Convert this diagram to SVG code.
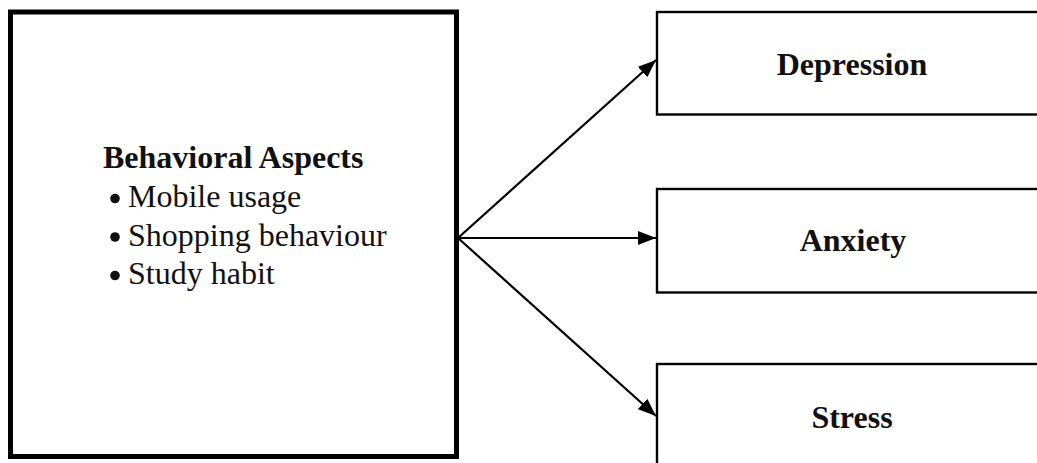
<svg xmlns="http://www.w3.org/2000/svg" width="1037" height="463" viewBox="0 0 1037 463">
  <style>
    .box { fill: #ffffff; stroke: #000000; }
    .main { stroke-width: 5; }
    .out { stroke-width: 2.4; }
    .title { font-family: "Liberation Serif", "Times New Roman", serif; font-weight: bold; font-size: 32px; fill: #111111; }
    .item { font-family: "Liberation Serif", "Times New Roman", serif; font-size: 32px; fill: #111111; }
    .bullet { fill: #111111; }
    .link { fill: none; stroke: #000000; stroke-width: 2.2; marker-end: url(#head); }
  </style>
  <defs>
    <marker id="head" markerUnits="userSpaceOnUse" markerWidth="18" markerHeight="14" refX="18" refY="7" orient="auto">
      <path d="M0,0 L18,7 L0,14 Z" fill="#000000"/>
    </marker>
  </defs>

  <rect width="1037" height="463" fill="#ffffff"/>

  <!-- source node -->
  <g id="behavioral-aspects">
    <rect class="box main" x="10.5" y="12" width="446" height="444.5"/>
    <text class="title" x="103" y="168">Behavioral Aspects</text>
    <circle class="bullet" cx="115" cy="198.5" r="4.8"/>
    <text class="item" x="128" y="207">Mobile usage</text>
    <circle class="bullet" cx="115" cy="237" r="4.8"/>
    <text class="item" x="128" y="245.5">Shopping behaviour</text>
    <circle class="bullet" cx="115" cy="275.5" r="4.8"/>
    <text class="item" x="128" y="284">Study habit</text>
  </g>

  <!-- outcome nodes -->
  <g id="depression">
    <rect class="box out" x="657" y="12" width="400" height="102.5"/>
    <text class="title" x="852" y="75" text-anchor="middle">Depression</text>
  </g>
  <g id="anxiety">
    <rect class="box out" x="657" y="189" width="400" height="103.5"/>
    <text class="title" x="853" y="251" text-anchor="middle">Anxiety</text>
  </g>
  <g id="stress">
    <rect class="box out" x="657" y="364" width="400" height="110"/>
    <text class="title" x="852" y="428" text-anchor="middle">Stress</text>
  </g>

  <!-- connectors -->
  <g id="connectors">
    <line class="link" x1="458" y1="238" x2="656" y2="60"/>
    <line class="link" x1="458" y1="238" x2="656" y2="238"/>
    <line class="link" x1="458" y1="238" x2="656" y2="416"/>
  </g>
</svg>
